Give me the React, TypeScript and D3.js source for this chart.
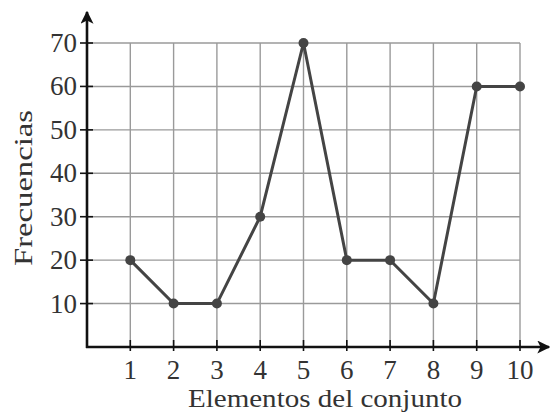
import React, { useEffect, useRef } from 'react';
import * as d3 from 'd3';

const elementos = [1, 2, 3, 4, 5, 6, 7, 8, 9, 10];
const frecuencias = [20, 10, 10, 30, 70, 20, 20, 10, 60, 60];
const yTicks = [10, 20, 30, 40, 50, 60, 70];

export default function App() {
  const ref = useRef<SVGSVGElement>(null);

  useEffect(() => {
    const width = 552;
    const height = 416;
    const svg = d3.select(ref.current);
    svg.selectAll('*').remove();

    const font = '"Liberation Serif", "DejaVu Serif", serif';
    const x = d3.scaleLinear().domain([0, 10]).range([87, 520]);
    const y = d3.scaleLinear().domain([0, 70]).range([347, 43]);

    const defs = svg.append('defs');
    defs
      .append('marker')
      .attr('id', 'arrow')
      .attr('viewBox', '0 0 10 10')
      .attr('refX', 9)
      .attr('refY', 5)
      .attr('markerWidth', 5)
      .attr('markerHeight', 5)
      .attr('markerUnits', 'strokeWidth')
      .attr('orient', 'auto')
      .append('path')
      .attr('d', 'M0,0 L10,5 L0,10 L2.5,5 Z')
      .attr('fill', '#111');

    // grid
    const grid = svg.append('g').attr('stroke', '#9a9a9a').attr('stroke-width', 1.4);
    grid
      .selectAll('line.v')
      .data(elementos)
      .enter()
      .append('line')
      .attr('x1', (d) => x(d))
      .attr('x2', (d) => x(d))
      .attr('y1', y(70))
      .attr('y2', y(0));
    grid
      .selectAll('line.h')
      .data(yTicks)
      .enter()
      .append('line')
      .attr('x1', x(0))
      .attr('x2', x(10))
      .attr('y1', (d) => y(d))
      .attr('y2', (d) => y(d));

    // axes
    const axes = svg.append('g').attr('stroke', '#111').attr('stroke-width', 2.6);
    axes
      .append('line')
      .attr('x1', x(0) - 1)
      .attr('x2', 549)
      .attr('y1', y(0))
      .attr('y2', y(0))
      .attr('marker-end', 'url(#arrow)');
    axes
      .append('line')
      .attr('x1', x(0))
      .attr('x2', x(0))
      .attr('y1', y(0) + 1)
      .attr('y2', 12)
      .attr('marker-end', 'url(#arrow)');

    // ticks
    const ticks = svg.append('g').attr('stroke', '#111').attr('stroke-width', 1.6);
    ticks
      .selectAll('line.xt')
      .data(elementos)
      .enter()
      .append('line')
      .attr('x1', (d) => x(d))
      .attr('x2', (d) => x(d))
      .attr('y1', y(0) - 7)
      .attr('y2', y(0) + 4);
    ticks
      .selectAll('line.yt')
      .data(yTicks)
      .enter()
      .append('line')
      .attr('x1', x(0) - 7)
      .attr('x2', x(0) + 6)
      .attr('y1', (d) => y(d))
      .attr('y2', (d) => y(d));

    // tick labels
    svg
      .append('g')
      .selectAll('text')
      .data(elementos)
      .enter()
      .append('text')
      .attr('x', (d) => x(d))
      .attr('y', 379)
      .attr('text-anchor', 'middle')
      .attr('font-family', font)
      .attr('font-size', 27)
      .attr('fill', '#333')
      .text((d) => d);
    svg
      .append('g')
      .selectAll('text')
      .data(yTicks)
      .enter()
      .append('text')
      .attr('x', 77)
      .attr('y', (d) => y(d) + 9)
      .attr('text-anchor', 'end')
      .attr('font-family', font)
      .attr('font-size', 27)
      .attr('fill', '#333')
      .text((d) => d);

    // axis titles
    svg
      .append('text')
      .attr('x', 325)
      .attr('y', 407)
      .attr('text-anchor', 'middle')
      .attr('font-family', font)
      .attr('font-size', 25)
      .attr('fill', '#333')
      .attr('textLength', 274)
      .attr('lengthAdjust', 'spacingAndGlyphs')
      .text('Elementos del conjunto');
    svg
      .append('text')
      .attr('transform', 'translate(32,188) rotate(-90)')
      .attr('text-anchor', 'middle')
      .attr('font-family', font)
      .attr('font-size', 25)
      .attr('fill', '#333')
      .attr('textLength', 156)
      .attr('lengthAdjust', 'spacingAndGlyphs')
      .text('Frecuencias');

    // series
    const points = elementos.map((e, i) => ({ e, f: frecuencias[i] }));
    const line = d3
      .line<{ e: number; f: number }>()
      .x((d) => x(d.e))
      .y((d) => y(d.f));
    svg
      .append('path')
      .datum(points)
      .attr('d', line)
      .attr('fill', 'none')
      .attr('stroke', '#444')
      .attr('stroke-width', 3);
    svg
      .append('g')
      .selectAll('circle')
      .data(points)
      .enter()
      .append('circle')
      .attr('cx', (d) => x(d.e))
      .attr('cy', (d) => y(d.f))
      .attr('r', 5)
      .attr('fill', '#444');

    svg.attr('width', width).attr('height', height);
  }, []);

  return (
    <svg
      ref={ref}
      width={552}
      height={416}
      style={{ position: 'absolute', left: 0, top: 0, background: '#fff' }}
    />
  );
}
